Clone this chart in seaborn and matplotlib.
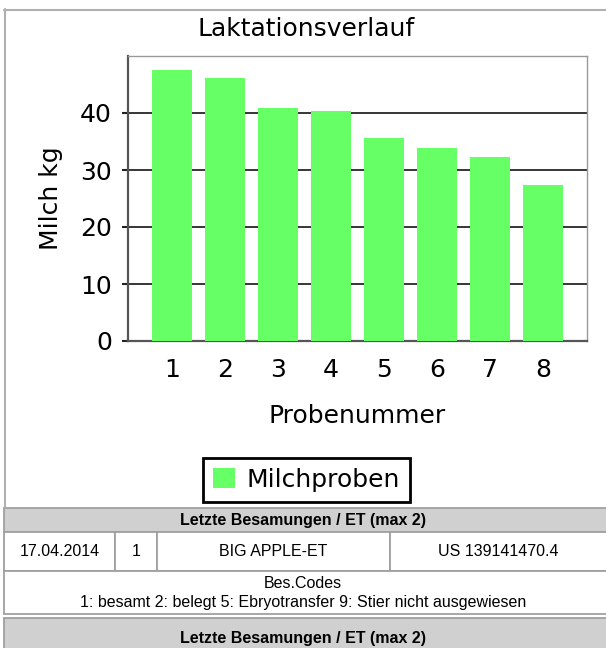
import matplotlib
matplotlib.use("Agg")
import matplotlib.pyplot as plt
import matplotlib.patches as mpatches
import pandas as pd
import seaborn as sns

# chart data
proben = ["1", "2", "3", "4", "5", "6", "7", "8"]
milch_kg = [47.5, 46.1, 40.8, 40.3, 35.7, 33.8, 32.2, 27.3]
y_ticks = [0, 10, 20, 30, 40]

# table texts
table_header = "Letzte Besamungen / ET (max 2)"
table_row = ["17.04.2014", "1", "BIG APPLE-ET", "US 139141470.4"]
codes_title = "Bes.Codes"
codes_text = "1: besamt 2: belegt 5: Ebryotransfer 9: Stier nicht ausgewiesen"

sns.set_style("white")
plt.rcParams["font.family"] = ["DejaVu Sans"]
plt.rcParams["text.color"] = "black"
plt.rcParams["axes.labelcolor"] = "black"
plt.rcParams["xtick.color"] = "black"
plt.rcParams["ytick.color"] = "black"

W, H = 606, 648
fig = plt.figure(figsize=(W / 100, H / 100), dpi=100)

# chart axes (pixel box: x 128..587, y 56..341)
ax = fig.add_axes([128 / W, 1 - 341 / H, (587 - 128) / W, (341 - 56) / H])
df = pd.DataFrame({"Probenummer": proben, "Milch": milch_kg})
sns.barplot(data=df, x="Probenummer", y="Milch", color="#66ff66",
            saturation=1, width=0.77, linewidth=0, ax=ax,
            label="Milchproben", zorder=3)

ax.set_xlim(-0.83, 7.83)
ax.set_ylim(0, 50)
ax.set_yticks(y_ticks)
ax.yaxis.grid(True, color="black", linewidth=1.1, zorder=1)
ax.set_axisbelow(True)
ax.tick_params(axis="y", left=True, length=4.5, width=1.5, color="#222222",
               pad=7, labelsize=18)
ax.tick_params(axis="x", bottom=False, length=0, pad=12, labelsize=18)
for side in ["top", "right"]:
    ax.spines[side].set_color("#999999")
    ax.spines[side].set_linewidth(1.0)
for side in ["left", "bottom"]:
    ax.spines[side].set_color("#555555")
    ax.spines[side].set_linewidth(1.6)
ax.set_xlabel("Probenummer", fontsize=18, labelpad=16)
ax.set_ylabel("Milch kg", fontsize=18, labelpad=12)

fig.text(0.505, 1 - 29.5 / H, "Laktationsverlauf", fontsize=18,
         ha="center", va="center")

leg = ax.legend(loc="center", bbox_to_anchor=(306.5 / W, 1 - 479.5 / H),
                bbox_transform=fig.transFigure, fontsize=18, frameon=True,
                fancybox=False, framealpha=1, handlelength=0.88,
                handleheight=0.88, handletextpad=0.45, borderpad=0.4)
leg.get_frame().set_edgecolor("black")
leg.get_frame().set_linewidth(2)

# overlay in pixel coordinates for frame and table
ov = fig.add_axes([0, 0, 1, 1], zorder=-1)
ov.set_xlim(0, W)
ov.set_ylim(H, 0)
ov.axis("off")

frame_col = "#b0b0b0"
line_col = "#a0a0a0"
head_col = "#d0d0d0"
ov.plot([4, W + 5], [9.5, 9.5], color=frame_col, lw=1.5)
ov.plot([4.5, 4.5], [9, 507], color=frame_col, lw=1.5)

def cell(x0, y0, x1, y1, fc):
    ov.add_patch(mpatches.Rectangle((x0, y0), x1 - x0, y1 - y0, facecolor=fc,
                                    edgecolor=line_col, linewidth=1.3))

tfont = ["Liberation Sans", "DejaVu Sans"]
cell(4, 508, W + 5, 532, head_col)
ov.text(W / 2, 520.5, table_header, family=tfont, fontweight="bold",
        fontsize=11.5, ha="center", va="center")

col_edges = [4, 115, 157, 390, W + 5]
for i, txt in enumerate(table_row):
    x0, x1 = col_edges[i], col_edges[i + 1]
    cell(x0, 532, x1, 571, "white")
    xc = (x0 + x1) / 2 if i < 3 else (x0 + W) / 2
    ov.text(xc, 552, txt, family=tfont, fontsize=11.5, ha="center", va="center")

cell(4, 571, W + 5, 614, "white")
ov.text(W / 2, 584, codes_title, family=tfont, fontsize=11.5,
        ha="center", va="center")
ov.text(W / 2, 603, codes_text, family=tfont, fontsize=11.5,
        ha="center", va="center")

cell(4, 618, W + 5, H + 20, head_col)
ov.text(W / 2, 638, table_header, family=tfont, fontweight="bold",
        fontsize=11.5, ha="center", va="center")

fig.savefig("out.png", dpi=100, facecolor="white")
